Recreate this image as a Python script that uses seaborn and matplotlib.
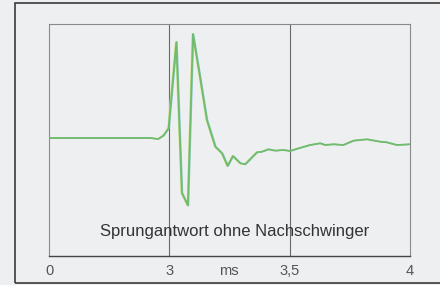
import matplotlib
matplotlib.use('Agg')
import matplotlib.pyplot as plt
import matplotlib.transforms as mtransforms
from matplotlib.patches import Rectangle
import numpy as np
import pandas as pd
import seaborn as sns

# Step response trace (time in ms, amplitude in arbitrary units)
time_ms = [0.0, 1.27, 2.52, 2.72, 2.85, 2.98, 3.029, 3.052, 3.077, 3.098,
           3.124, 3.156, 3.191, 3.219, 3.242, 3.264, 3.295, 3.315, 3.364, 3.385,
           3.412, 3.440, 3.474, 3.502, 3.537, 3.585, 3.627, 3.647, 3.682, 3.723,
           3.765, 3.820, 3.876, 3.903, 3.945, 4.0]
amplitude = [0, 0, 0, -1, 2.3, 9.7, 96, -55, -67.5, 104,
             66, 18, -8.7, -15.3, -28, -18, -25.3, -26.3, -14.3, -13.7,
             -11.3, -12.7, -12, -13, -10.3, -7, -5.3, -7, -6.3, -7,
             -2.7, -1.3, -3.7, -4.3, -7, -6.3]

tick_pos = [0, 3, 3.5, 4]
tick_labels = ["0", "3", "3,5", "4"]
unit_label = "ms"
caption = "Sprungantwort ohne Nachschwinger"

df = pd.DataFrame({"t": time_ms, "y": amplitude})

sns.set_style("white")
plt.rcParams['font.family'] = ['Liberation Sans', 'DejaVu Sans']

bg = '#eeeff1'
fig = plt.figure(figsize=(4.4, 2.85), dpi=100, facecolor=bg)
ax = fig.add_axes([49 / 440, 29 / 285, 361 / 440, 232 / 285])
ax.set_facecolor(bg)

# compressed time axis: 0..3 ms squeezed, 3..4 ms stretched
def fwd(x):
    x = np.asarray(x, dtype=float)
    return np.where(x < 3, x / 3, 1 + (x - 3) * 2)

def inv(u):
    u = np.asarray(u, dtype=float)
    return np.where(u < 1, u * 3, 3 + (u - 1) / 2)

ax.set_xscale('function', functions=(fwd, inv))
ax.set_xlim(0, 4)
ax.set_ylim(-118, 114)

# faint colour fringes like the printed original
left = mtransforms.offset_copy(ax.transData, fig=fig, x=-0.8, y=0, units='dots')
right = mtransforms.offset_copy(ax.transData, fig=fig, x=0.8, y=0, units='dots')
ax.plot(df["t"], df["y"], color='#dde77a', lw=0.9, alpha=0.8, transform=left, zorder=2)
ax.plot(df["t"], df["y"], color='#6fc0cc', lw=0.9, alpha=0.8, transform=right, zorder=2)
sns.lineplot(data=df, x="t", y="y", ax=ax, color='#70bb6c', lw=1.3, zorder=3)

for xv in [3, 3.5]:
    ax.axvline(xv, color='#6a6a6a', lw=0.8, zorder=1)

ax.set_xticks(tick_pos)
ax.set_xticklabels(tick_labels)
ax.set_yticks([0, 109])
ax.set_yticklabels([])
ax.tick_params(axis='x', colors='#666666', labelcolor='#555555', labelsize=10.5,
               length=3, width=0.8, pad=3, direction='out')
ax.tick_params(axis='y', colors='#888888', length=3, width=0.8, direction='out')
ax.set_xlabel("")
ax.set_ylabel("")

ax.text(3.249, -0.083, unit_label, transform=ax.get_xaxis_transform(), ha='center',
        va='baseline', fontsize=10.5, color='#555555')

ax.text(3.272, -97.7, caption, ha='center', va='baseline', fontsize=12, color='#333333')

for side in ['left', 'right', 'top']:
    ax.spines[side].set_color('#8a8a8a')
    ax.spines[side].set_linewidth(0.8)
ax.spines['bottom'].set_color('#444444')
ax.spines['bottom'].set_linewidth(1.0)

# outer frame of the figure
fig.patches.append(Rectangle((15 / 440, 2 / 285), 1.0, 280 / 285, transform=fig.transFigure,
                             fill=False, edgecolor='#3a3a3a', lw=1.2))

fig.savefig("out.png", dpi=100, facecolor=bg)
